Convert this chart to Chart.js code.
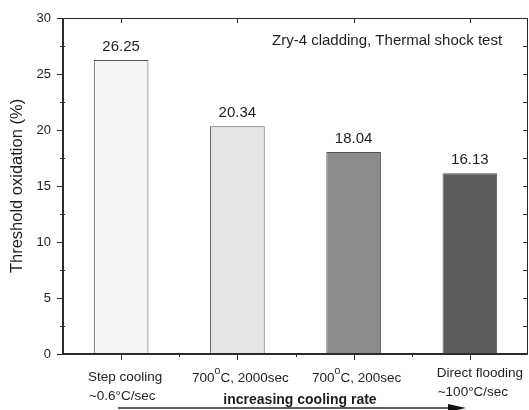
<!DOCTYPE html>
<html>
<head>
<meta charset="utf-8">
<script src="https://cdn.jsdelivr.net/npm/chart.js@4"></script>
<style>
	html, body { margin: 0; padding: 0; background: #fff; }
	canvas { display: block; }
</style>
</head>
<body>
<canvas id="oxChart" width="529" height="410"></canvas>
<script>
// DATA
const categories = ["Step cooling", "700C 2000sec", "700C 200sec", "Direct flooding"];
const labelLines = [
	["Step cooling", "~0.6°C/sec"],
	["700^oC, 2000sec"],
	["700^oC, 200sec"],
	["Direct flooding", "~100°C/sec"]
];
const thresholdValues = [26.25, 20.34, 18.04, 16.13];
const barColors = ["#f4f4f4", "#e5e5e5", "#8b8b8b", "#5d5d5d"];
const yTicks = [0, 5, 10, 15, 20, 25, 30];
const noteText = "Zry-4 cladding, Thermal shock test";
const arrowText = "increasing cooling rate";

const FONT = "'Liberation Sans', Arial, sans-serif";
const INK = "#1e1e1e";

// draws text with "^o" rendered as a raised small o
function drawSup(c, text, x, y, size, align) {
	const parts = text.split("^o");
	c.font = size + "px " + FONT;
	let total = 0;
	parts.forEach((p, i) => {
		total += c.measureText(p).width;
		if (i < parts.length - 1) {
			c.font = (size - 3) + "px " + FONT;
			total += c.measureText("o").width;
			c.font = size + "px " + FONT;
		}
	});
	let cx = align === "center" ? x - total / 2 : x;
	c.textAlign = "left";
	parts.forEach((p, i) => {
		c.font = size + "px " + FONT;
		c.fillText(p, cx, y);
		cx += c.measureText(p).width;
		if (i < parts.length - 1) {
			c.font = (size - 3) + "px " + FONT;
			c.fillText("o", cx, y - 7);
			cx += c.measureText("o").width;
		}
	});
}

const framePlugin = {
	id: "frame",
	afterDatasetsDraw(chart) {
		const c = chart.ctx;
		const a = chart.chartArea;
		const ys = chart.scales.y;
		const xs = chart.scales.x;
		c.save();
		c.strokeStyle = "#2a2a2a";

		// box
		c.lineWidth = 1;
		c.beginPath();
		c.moveTo(a.left, a.top + 0.5);
		c.lineTo(a.right, a.top + 0.5);
		c.moveTo(a.right - 0.5, a.top);
		c.lineTo(a.right - 0.5, a.bottom);
		c.stroke();
		c.lineWidth = 2;
		c.beginPath();
		c.moveTo(a.left, a.top);
		c.lineTo(a.left, a.bottom + 1);
		c.moveTo(a.left - 1, a.bottom);
		c.lineTo(a.right, a.bottom);
		c.stroke();

		// y ticks
		c.lineWidth = 1;
		c.beginPath();
		for (let v = 0; v <= 30; v += 2.5) {
			const y = Math.round(ys.getPixelForValue(v)) + 0.5;
			const major = v % 5 === 0;
			c.moveTo(a.left - (major ? 6 : 3), y);
			c.lineTo(a.left + (major ? 0 : 2), y);
			if (v > 0 && v < 30) {
				c.moveTo(a.right, y);
				c.lineTo(a.right - 5, y);
			}
		}
		// x ticks
		for (let i = 0; i < categories.length; i++) {
			const x = Math.round(xs.getPixelForValue(i)) + 0.5;
			c.moveTo(x, a.bottom);
			c.lineTo(x, a.bottom + 6);
			c.moveTo(x, a.top);
			c.lineTo(x, a.top + 5);
			if (i > 0) {
				const m = Math.round((xs.getPixelForValue(i) + xs.getPixelForValue(i - 1)) / 2) + 0.5;
				c.moveTo(m, a.bottom);
				c.lineTo(m, a.bottom + 3);
			}
		}
		c.stroke();

		// value labels
		c.fillStyle = INK;
		c.font = "15px " + FONT;
		c.textAlign = "center";
		c.textBaseline = "middle";
		const meta = chart.getDatasetMeta(0);
		meta.data.forEach((bar, i) => {
			c.fillText(thresholdValues[i].toFixed(2), bar.x, bar.y - 13);
		});

		// note
		c.textAlign = "left";
		c.fillText(noteText, a.left + 209, a.top + 23);

		// category labels
		c.textBaseline = "middle";
		labelLines.forEach((lines, i) => {
			const cx = xs.getPixelForValue(i);
			if (lines.length === 1) {
				drawSup(c, lines[0], cx + 3, a.bottom + 24, 13.5, "center");
			} else {
				c.font = "13.5px " + FONT;
				const w = c.measureText(lines[0]).width;
				const shift = i === 0 ? 4 : 10;
				const left = cx + shift - w / 2;
				const top = i === 0 ? a.bottom + 23 : a.bottom + 19;
				c.textAlign = "left";
				c.fillText(lines[0], left, top);
				c.fillText(lines[1], left + 1, top + 19);
			}
		});

		// arrow
		c.font = "bold 14px " + FONT;
		c.textAlign = "center";
		c.fillText(arrowText, 300, 400);
		c.lineWidth = 1.5;
		c.beginPath();
		c.moveTo(118, 408);
		c.lineTo(455, 408);
		c.stroke();
		c.fillStyle = "#111";
		c.beginPath();
		c.moveTo(448, 404);
		c.lineTo(466, 408);
		c.lineTo(448, 412);
		c.closePath();
		c.fill();

		c.restore();
	}
};

const chart = new Chart(document.getElementById("oxChart"), {
	type: "bar",
	data: {
		labels: categories,
		datasets: [{
			label: "Threshold oxidation",
			data: thresholdValues,
			backgroundColor: barColors,
			borderColor: "#555",
			borderWidth: 1,
			barPercentage: 0.47,
			categoryPercentage: 1
		}]
	},
	options: {
		responsive: false,
		animation: false,
		devicePixelRatio: 1,
		layout: { padding: { top: 18, right: 1, left: 0, bottom: 0 } },
		plugins: {
			legend: { display: false },
			tooltip: { enabled: false }
		},
		scales: {
			x: {
				grid: { display: false },
				border: { display: false },
				ticks: { display: false },
				afterFit(scale) { scale.height = 56; }
			},
			y: {
				min: 0,
				max: 30,
				afterBuildTicks(scale) { scale.ticks = yTicks.map(v => ({ value: v })); },
				grid: { display: false, drawTicks: true, tickLength: 7 },
				border: { display: false },
				ticks: {
					color: INK,
					font: { family: FONT, size: 13 },
					padding: 5
				},
				title: {
					display: true,
					text: "Threshold oxidation (%)",
					color: INK,
					font: { family: FONT, size: 16.5 },
					padding: { top: 8, bottom: 0 }
				},
				afterFit(scale) { scale.width = 63; }
			}
		}
	},
	plugins: [framePlugin]
});
</script>
</body>
</html>
